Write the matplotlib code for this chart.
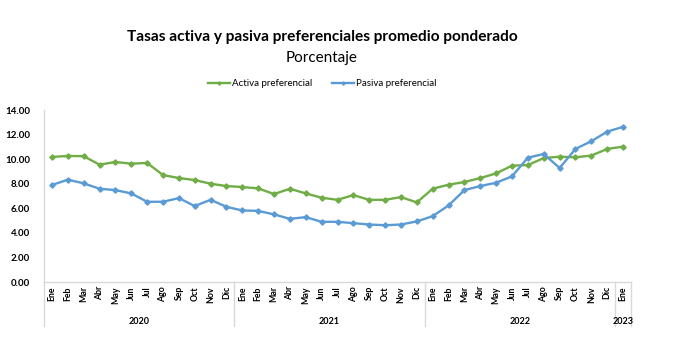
import matplotlib
matplotlib.use("Agg")
import matplotlib.pyplot as plt
import matplotlib.transforms as mtransforms
import numpy as np

months = ["Ene", "Feb", "Mar", "Abr", "May", "Jun", "Jul", "Ago", "Sep", "Oct", "Nov", "Dic"] * 3 + ["Ene"]
years = ["2020", "2021", "2022", "2023"]
year_centers = [5.5, 17.5, 29.5, 36]
year_bounds = [-0.5, 11.5, 23.5, 35.5, 36.5]

activa = [10.18, 10.26, 10.24, 9.55, 9.77, 9.63, 9.69, 8.71, 8.46, 8.30, 8.00, 7.81,
          7.73, 7.62, 7.16, 7.59, 7.21, 6.86, 6.69, 7.07, 6.69, 6.69, 6.91, 6.48,
          7.59, 7.92, 8.14, 8.46, 8.84, 9.47, 9.52, 10.09, 10.20, 10.15, 10.29, 10.83,
          11.02]
pasiva = [7.89, 8.33, 8.03, 7.59, 7.48, 7.21, 6.53, 6.53, 6.83, 6.18, 6.69, 6.12,
          5.82, 5.79, 5.50, 5.14, 5.28, 4.90, 4.90, 4.79, 4.68, 4.62, 4.68, 4.93,
          5.36, 6.23, 7.48, 7.81, 8.08, 8.60, 10.12, 10.42, 9.28, 10.83, 11.46, 12.24,
          12.63]

plt.rcParams['font.family'] = ['Lato', 'DejaVu Sans']

fig = plt.figure(figsize=(6.76, 3.5), dpi=100)
ax = fig.add_axes([44/676, 68/350, (631-44)/676, (282-110)/350])

x = np.arange(len(months))
green = "#70AD47"
blue = "#5B9BD5"
ax.plot(x, activa, color=green, lw=1.7, marker="D", ms=2.7, label="Activa preferencial")
ax.plot(x, pasiva, color=blue, lw=1.7, marker="D", ms=2.7, label="Pasiva preferencial")

ax.set_xlim(-0.5, 36.5)
ax.set_ylim(0, 14)
ax.set_yticks(np.arange(0, 14.01, 2))
ax.set_yticklabels([f"{v:.2f}" for v in np.arange(0, 14.01, 2)], fontsize=7, fontweight="bold")
ax.tick_params(axis="y", length=0, pad=10)
ax.set_xticks(x)
ax.set_xticklabels(months, rotation=90, fontsize=6.3, fontweight="bold", va="top")
ax.tick_params(axis="x", length=0, pad=3)

for s in ["top", "right"]:
    ax.spines[s].set_visible(False)
for s in ["left", "bottom"]:
    ax.spines[s].set_color("#D9D9D9")
    ax.spines[s].set_linewidth(1)

trans = mtransforms.blended_transform_factory(ax.transData, ax.transAxes)
h = 172.0
for b in year_bounds:
    ax.plot([b, b], [0, -44/h], transform=trans, color="#D9D9D9", lw=1, clip_on=False)
for yc, yl in zip(year_centers, years):
    ax.text(yc, -40/h, yl, transform=trans, ha="center", va="center", fontsize=6.5, fontweight="bold")

fig.text(322/676, 1-37/350, "Tasas activa y pasiva preferenciales promedio ponderado",
         ha="center", va="center", fontsize=11.1, fontweight="bold")
fig.text(322/676, 1-58/350, "Porcentaje", ha="center", va="center", fontsize=11)

fig.legend(loc="center", bbox_to_anchor=(322/676, 1-84/350), ncol=2, frameon=False,
           fontsize=7, handlelength=2.3, columnspacing=2, handletextpad=0.2, markerscale=0.6)

fig.savefig("out.png", dpi=100)
